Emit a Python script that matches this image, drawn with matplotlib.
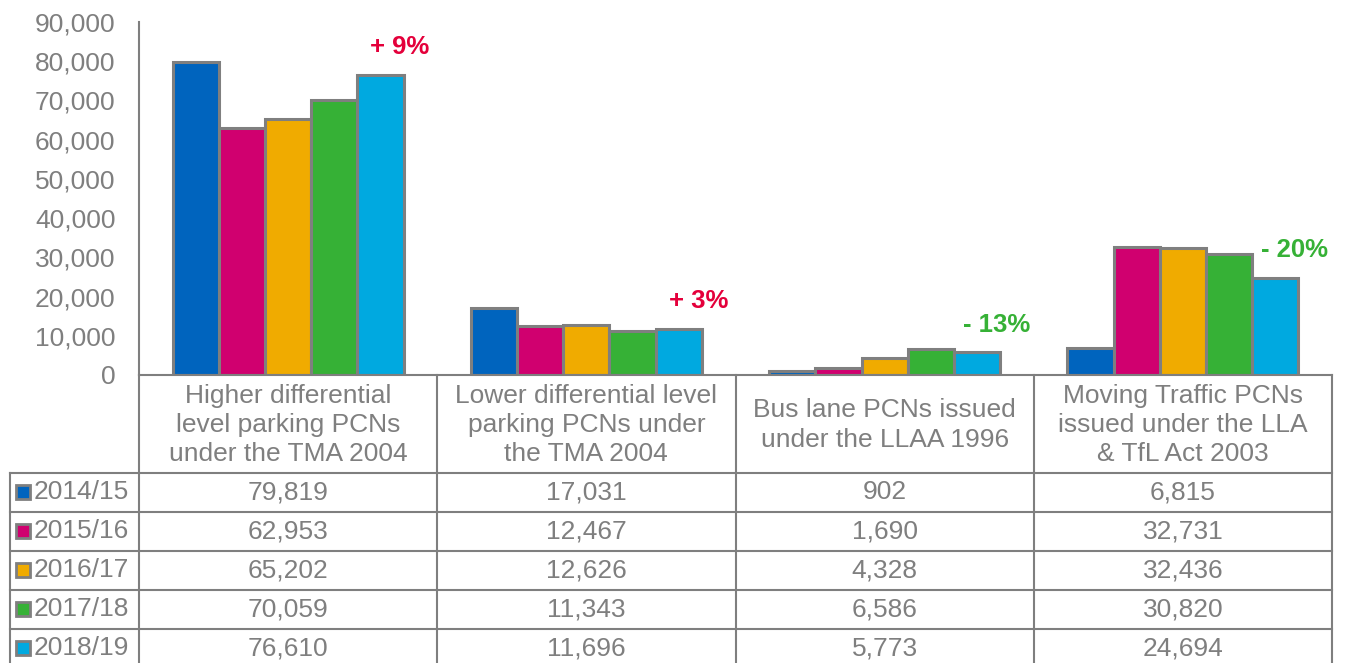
import matplotlib.pyplot as plt
from matplotlib.patches import Rectangle

# data
categories = [
    "Higher differential\nlevel parking PCNs\nunder the TMA 2004",
    "Lower differential level\nparking PCNs under\nthe TMA 2004",
    "Bus lane PCNs issued\nunder the LLAA 1996",
    "Moving Traffic PCNs\nissued under the LLA\n& TfL Act 2003",
]
years = ["2014/15", "2015/16", "2016/17", "2017/18", "2018/19"]
v_2014 = [79819, 17031, 902, 6815]
v_2015 = [62953, 12467, 1690, 32731]
v_2016 = [65202, 12626, 4328, 32436]
v_2017 = [70059, 11343, 6586, 30820]
v_2018 = [76610, 11696, 5773, 24694]
change_labels = ["+ 9%", "+ 3%", "- 13%", "- 20%"]

series = [v_2014, v_2015, v_2016, v_2017, v_2018]
colors = ["#0064BE", "#D0006F", "#F0AB00", "#36B136", "#00A9E0"]
grey = "#7f7f7f"
red = "#E4003B"
green = "#36B136"

plt.rcParams['font.family'] = ['Liberation Sans', 'DejaVu Sans']
fs = 19

W, H = 1347, 663
fig = plt.figure(figsize=(W / 100, H / 100), dpi=100)

# pixel geometry of the plot area
x0, x1 = 139, 1332
y_top, y_zero = 22, 375
ax = fig.add_axes([x0 / W, 1 - y_zero / H, (x1 - x0) / W, (y_zero - y_top) / H])

bw = 0.155
for j, vals in enumerate(series):
    xs = [i + 0.5 + (j - 2) * bw for i in range(len(categories))]
    ax.bar(xs, vals, width=bw, color=colors[j], edgecolor=grey, linewidth=2.2, zorder=3)

for i, lab in enumerate(change_labels):
    col = red if lab.startswith("+") else green
    ax.annotate(lab, (i + 0.5 + 2 * bw, series[-1][i]), xytext=(14, 20),
                textcoords="offset points", ha="center", va="center",
                fontsize=18.5, fontweight="bold", color=col)

ax.set_xlim(0, len(categories))
ax.set_ylim(0, 90000)
ax.set_yticks(range(0, 90001, 10000))
ax.set_yticklabels([f"{t:,}" for t in range(0, 90001, 10000)])
ax.tick_params(axis="y", length=0, pad=17, labelsize=fs, labelcolor=grey)
ax.set_xticks([])
for s in ["top", "right", "bottom"]:
    ax.spines[s].set_visible(False)
ax.spines["left"].set_color(grey)
ax.spines["left"].set_linewidth(1.5)
ax.patch.set_alpha(0)

# data table below the chart, drawn in pixel coordinates
tab = fig.add_axes([0, 0, 1, 1])
tab.set_xlim(0, W)
tab.set_ylim(H, 0)
tab.axis("off")
tab.patch.set_alpha(0)

col_edges = [x0 + k * (x1 - x0) / len(categories) for k in range(len(categories) + 1)]
head_bottom = 473
row_h = 38.9
row_edges = [head_bottom + k * row_h for k in range(len(years) + 1)]
lx = 10

lw = 1.5
tab.plot([x0, x1], [y_zero, y_zero], color=grey, lw=lw)
for y in row_edges:
    tab.plot([lx, x1], [y, y], color=grey, lw=lw)
tab.plot([lx, lx], [head_bottom, H], color=grey, lw=lw)
for x in col_edges[1:]:
    tab.plot([x, x], [y_zero, H], color=grey, lw=lw)
tab.plot([x0, x0], [y_zero, H], color=grey, lw=lw)

for i, cat in enumerate(categories):
    cx = (col_edges[i] + col_edges[i + 1]) / 2
    tab.text(cx, (y_zero + head_bottom) / 2 + 1, cat, ha="center", va="center",
             fontsize=fs, color=grey, linespacing=1.27)

for j, yr in enumerate(years):
    cy = (row_edges[j] + row_edges[j + 1]) / 2
    tab.add_patch(Rectangle((16, cy - 7), 14, 14, facecolor=colors[j],
                            edgecolor=grey, linewidth=2))
    tab.text(34, cy, yr, ha="left", va="center", fontsize=fs, color=grey)
    for i in range(len(categories)):
        cx = (col_edges[i] + col_edges[i + 1]) / 2
        tab.text(cx, cy, f"{series[j][i]:,}", ha="center", va="center",
                 fontsize=fs, color=grey)

fig.savefig("out.png", dpi=100)
